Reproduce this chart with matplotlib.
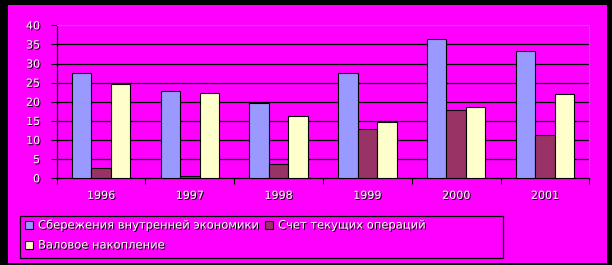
import matplotlib
matplotlib.use("Agg")
import matplotlib.pyplot as plt
import matplotlib.patches as mpatches
import matplotlib.patheffects as pe
import numpy as np

# ---- data -------------------------------------------------------------------
years = ["1996", "1997", "1998", "1999", "2000", "2001"]
savings = [27.4, 22.7, 19.8, 27.4, 36.3, 33.2]
current_account = [2.8, 0.5, 3.7, 12.8, 17.8, 11.2]
gross_accum = [24.6, 22.2, 16.2, 14.6, 18.6, 22.0]
series_labels = ["Сбережения внутренней экономики", "Счет текущих операций",
                 "Валовое накопление"]
yticks = [0, 5, 10, 15, 20, 25, 30, 35, 40]

# ---- style ------------------------------------------------------------------
COLORS = ["#9999FF", "#993366", "#FFFFCC"]
BG = "#FF00FF"
EMBOSS = [pe.SimplePatchShadow(offset=(0.8, -0.8), shadow_rgbFace="black", alpha=1.0),
          pe.Normal()]
plt.rcParams.update({"font.family": "DejaVu Sans", "font.size": 7})

W, H = 612, 265
fig = plt.figure(figsize=(W / 100, H / 100), dpi=100, facecolor="black")
fig.patches.append(mpatches.Rectangle((8 / W, 2 / H), 599 / W, 258 / H,
                                      transform=fig.transFigure,
                                      facecolor=BG, edgecolor="none", zorder=-5))

ax = fig.add_axes([56.7 / W, 86.7 / H, 532.6 / W, 153.0 / H])
ax.set_facecolor(BG)

x = np.arange(len(years))
bw = 0.22
for k, vals in enumerate([savings, current_account, gross_accum]):
    ax.bar(x + (k - 1) * bw, vals, bw, color=COLORS[k], edgecolor="black",
           linewidth=0.8, zorder=3)

ax.set_xlim(-0.5, len(years) - 0.5)
ax.set_ylim(0, 40)
ax.set_yticks(yticks)
for t in yticks[1:-1]:
    ax.axhline(t, color="black", lw=0.9, zorder=1)
ax.set_xticks(x)
ax.set_xticklabels(years)
ax.set_xticks(np.arange(len(years) + 1) - 0.5, minor=True)
ax.tick_params(axis="x", which="major", length=0, pad=9, colors="white")
ax.tick_params(axis="x", which="minor", length=4, width=0.8, color="black")
ax.tick_params(axis="y", length=4, width=0.8, pad=8, labelcolor="white", color="black")
for lab in ax.get_xticklabels() + ax.get_yticklabels():
    lab.set_path_effects(EMBOSS)
    lab.set_fontsize(8)
for s in ["top", "right"]:
    ax.spines[s].set_color("#808080")
    ax.spines[s].set_linewidth(0.8)
for s in ["left", "bottom"]:
    ax.spines[s].set_color("black")
    ax.spines[s].set_linewidth(0.9)

# ---- legend (excel style box) -----------------------------------------------
fig.patches.append(mpatches.Rectangle((20 / W, 7 / H), 483 / W, 42 / H,
                                      transform=fig.transFigure, facecolor="none",
                                      edgecolor="black", lw=0.9, zorder=2))
entry_pos = [(25, 225), (265, 225), (25, 245)]
for k, (px, py) in enumerate(entry_pos):
    fig.patches.append(mpatches.Rectangle((px / W, (H - py - 4) / H), 8 / W, 8 / H,
                                          transform=fig.transFigure,
                                          facecolor=COLORS[k], edgecolor="black",
                                          lw=0.8, zorder=3))
    fig.text((px + 13) / W, (H - py) / H, series_labels[k], color="white",
             fontsize=8.3, va="center", ha="left", path_effects=EMBOSS)

fig.savefig("out.png", dpi=100, facecolor="black")
